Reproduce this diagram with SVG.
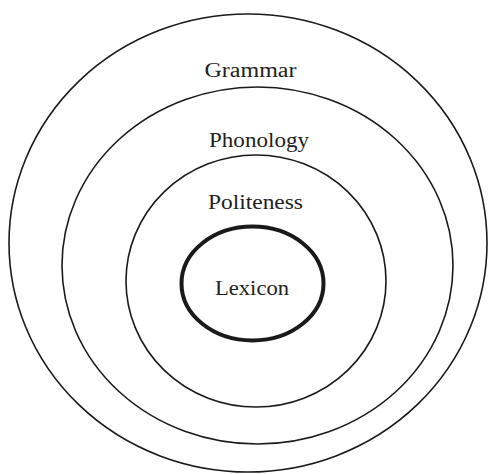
<svg xmlns="http://www.w3.org/2000/svg" width="488" height="474" viewBox="0 0 488 474">
<style>
.ring{fill:none;stroke:#1a1a1a;stroke-width:1.6}
.core{fill:none;stroke:#1a1a1a;stroke-width:4}
.lbl{font-family:"Liberation Serif","DejaVu Serif",serif;font-size:20px;fill:#222;text-anchor:middle}
</style>
<rect width="488" height="474" fill="#fff"/>
<g id="grammar">
<ellipse class="ring" cx="248" cy="243" rx="239" ry="229"/>
<text class="lbl" x="250.5" y="77" textLength="92" lengthAdjust="spacingAndGlyphs">Grammar</text>
</g>
<g id="phonology">
<ellipse class="ring" cx="257.5" cy="265.5" rx="195.5" ry="178.5"/>
<text class="lbl" x="259" y="147" textLength="100" lengthAdjust="spacingAndGlyphs">Phonology</text>
</g>
<g id="politeness">
<ellipse class="ring" cx="256" cy="281" rx="130" ry="126"/>
<text class="lbl" x="255.5" y="209" textLength="95" lengthAdjust="spacingAndGlyphs">Politeness</text>
</g>
<g id="lexicon">
<ellipse class="core" cx="252.5" cy="283.5" rx="71" ry="57"/>
<text class="lbl" x="252" y="295" textLength="74" lengthAdjust="spacingAndGlyphs">Lexicon</text>
</g>
<g id="connectors"></g>
</svg>
